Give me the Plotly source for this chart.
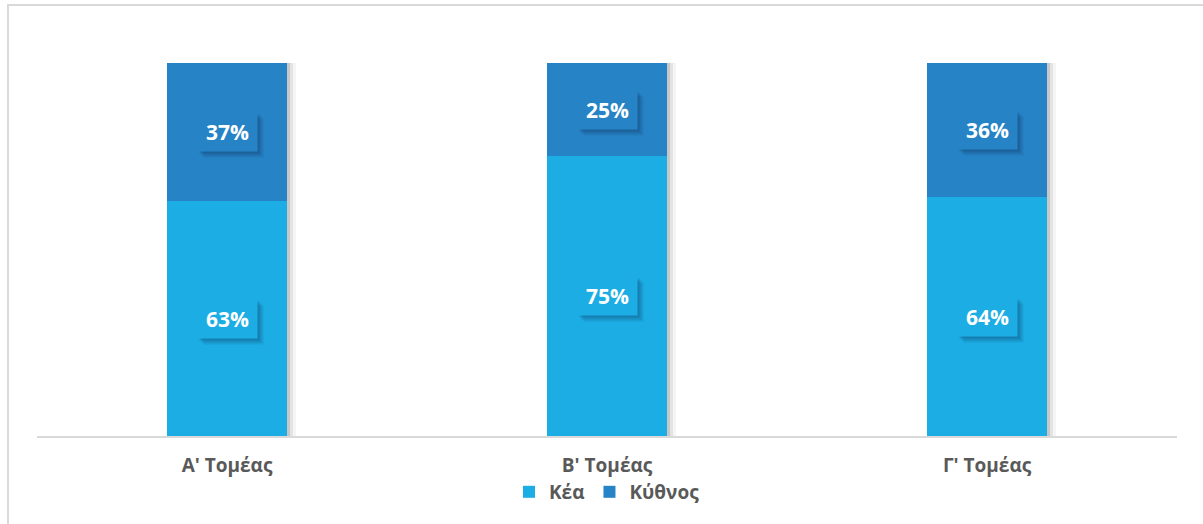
import plotly.graph_objects as go

categories = ["Α' Τομέας", "Β' Τομέας", "Γ' Τομέας"]
kea = [63, 75, 64]
kythnos = [37, 25, 36]
series_names = ["Κέα", "Κύθνος"]

COL_KEA = "#1CADE4"
COL_KYT = "#2683C6"
BAR_W = 0.316
PX = 1.0 / 380.0  # one pixel in category units
FONT = "Open Sans"

totals = [a + b for a, b in zip(kea, kythnos)]
xs = list(range(len(categories)))

fig = go.Figure()

# soft shadow of bars (layered)
for dx, op in [(9, 0.04), (6, 0.07), (3, 0.12)]:
    fig.add_trace(go.Bar(
        x=xs, y=totals, width=BAR_W, offset=-BAR_W / 2 + dx * PX,
        marker=dict(color=f"rgba(0,0,0,{op})", line=dict(width=0)),
        showlegend=False, hoverinfo="skip"))

fig.add_trace(go.Bar(
    x=xs, y=kea, name=series_names[0], width=BAR_W,
    marker=dict(color=COL_KEA, line=dict(width=0))))
fig.add_trace(go.Bar(
    x=xs, y=kythnos, base=kea, name=series_names[1], width=BAR_W,
    marker=dict(color=COL_KYT, line=dict(width=0))))

annotations = []
for x, a, b in zip(xs, kea, kythnos):
    for val, mid, col in [(a, a / 2, COL_KEA), (b, a + b / 2, COL_KYT)]:
        for sh, op in [(6, 0.10), (4, 0.14), (2, 0.16)]:
            annotations.append(dict(
                x=x, y=mid, xref="x", yref="y", text="&nbsp;", showarrow=False,
                font=dict(family=FONT, size=21, color="rgba(0,0,0,0)"),
                bgcolor=f"rgba(10,40,80,{op})", width=59, height=38, borderpad=0,
                xshift=sh, yshift=-sh))
        annotations.append(dict(
            x=x, y=mid, xref="x", yref="y", text=f"<b>{val}%</b>", showarrow=False,
            font=dict(family=FONT, size=21, color="white"),
            bgcolor=col, width=59, height=38, borderpad=0))

fig.update_layout(
    width=1203, height=524,
    margin=dict(l=37, r=26, t=63, b=88),
    paper_bgcolor="white", plot_bgcolor="white",
    barmode="overlay", bargap=0,
    annotations=annotations,
    showlegend=True,
    legend=dict(orientation="h", x=0.5, xanchor="center", y=-0.150, yanchor="middle",
                bgcolor="rgba(0,0,0,0)",
                font=dict(family=FONT, size=19, color="#595959", weight="bold"),
                itemwidth=30, traceorder="normal"),
    xaxis=dict(tickmode="array", tickvals=xs, ticktext=categories,
               range=[-0.5, 2.5], showgrid=False, zeroline=False,
               showline=True, linecolor="#D9D9D9", linewidth=2,
               ticks="", ticklabelstandoff=11,
               tickfont=dict(family=FONT, size=19, color="#595959", weight="bold")),
    yaxis=dict(range=[0, 100], visible=False, showgrid=False, zeroline=False),
    shapes=[dict(type="rect", xref="paper", yref="paper",
                 x0=(8 - 37) / 1140, x1=1.05, y0=-0.5, y1=(436 - 5) / 373,
                 line=dict(color="#D9D9D9", width=2), fillcolor="rgba(0,0,0,0)",
                 layer="below")],
)

fig.write_html("out.html", config={"displayModeBar": False},
               post_script="document.body.style.margin='0';document.body.style.overflow='hidden';")
